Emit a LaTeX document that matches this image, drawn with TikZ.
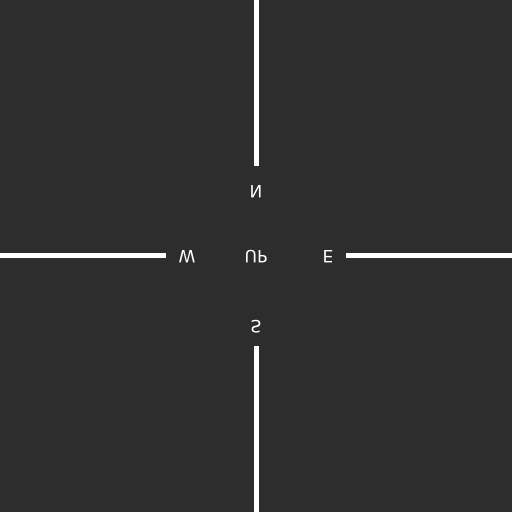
\documentclass[tikz,border=0pt]{standalone}
\usepackage{fontspec}
\setmainfont{DejaVu Sans}
\definecolor{bgc}{HTML}{2D2D2D}
\begin{document}
\begin{tikzpicture}[x=1pt,y=-1pt,
  axisline/.style={draw=white,line width=4.5pt},
  lbl/.style={text=white,font=\fontsize{17}{17}\selectfont,inner sep=0pt}]
\fill[bgc] (0,0) rectangle (512,512);
\useasboundingbox (0,0) rectangle (512,512);
\coordinate (ntop) at (256.5,0);
\coordinate (nend) at (256.5,166);
\coordinate (sbot) at (256.5,512);
\coordinate (send) at (256.5,346);
\coordinate (wleft) at (0,255.5);
\coordinate (wend) at (166,255.5);
\coordinate (eright) at (512,255.5);
\coordinate (eend) at (346,255.5);
\draw[axisline] (ntop) -- (nend);
\draw[axisline] (send) -- (sbot);
\draw[axisline] (wleft) -- (wend);
\draw[axisline] (eend) -- (eright);
\node[lbl] (n) at (256,192) {\scalebox{1}[-1]{N}};
\node[lbl] (w) at (187,257) {\scalebox{1}[-1]{W}};
\node[lbl] (up) at (256,257) {\scalebox{1}[-1]{UP}};
\node[lbl] (e) at (328,257) {\scalebox{1}[-1]{E}};
\node[lbl] (s) at (256,327) {\scalebox{1}[-1]{S}};
\end{tikzpicture}
\end{document}
